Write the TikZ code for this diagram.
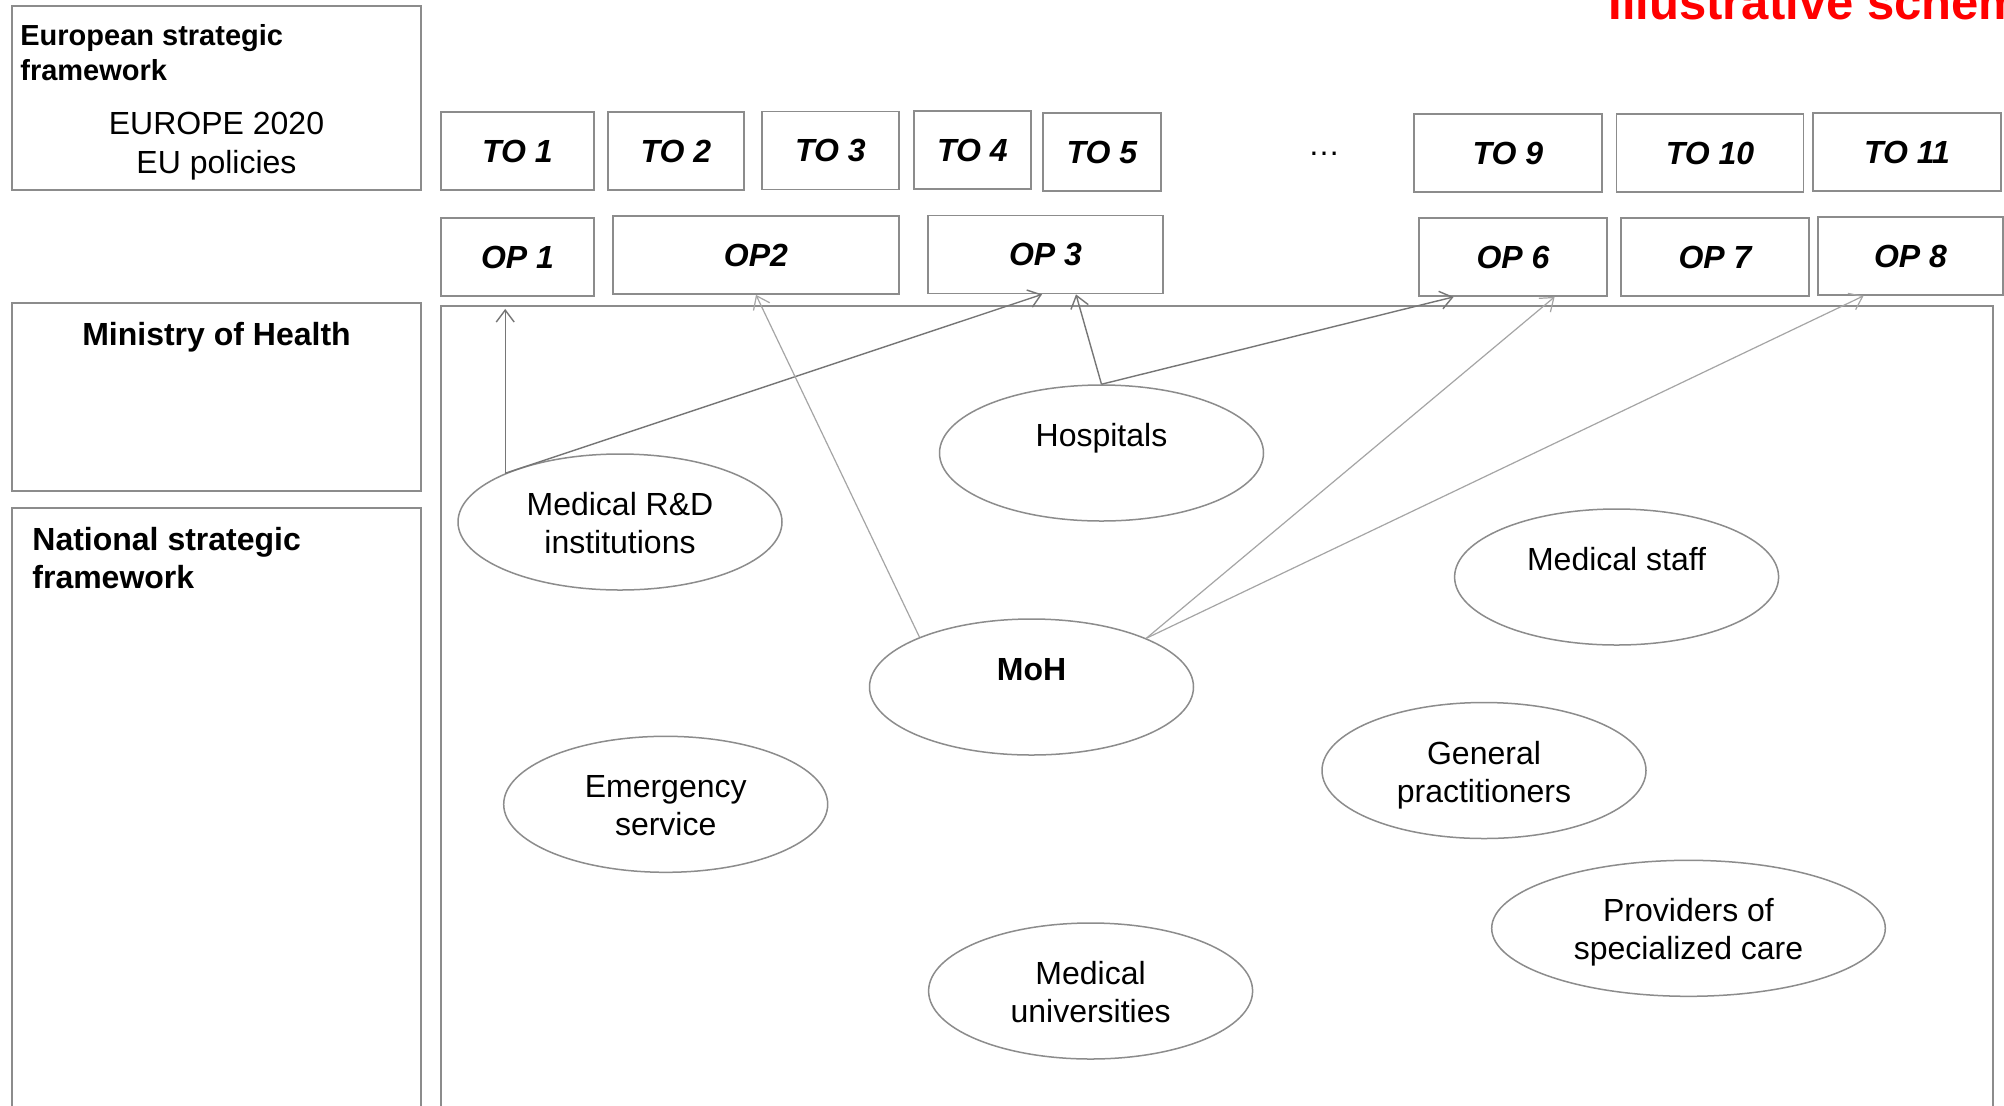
\documentclass[tikz,border=0pt]{standalone}
\usepackage{fontspec}
\setmainfont{Liberation Sans}
\usetikzlibrary{shapes.geometric,arrows.meta,calc}
\definecolor{boxgray}{RGB}{140,140,140}
\definecolor{arrdark}{RGB}{118,118,118}
\definecolor{arrlight}{RGB}{165,165,165}
\newcommand\tstrut{\rule{0pt}{18.3pt}}
\begin{document}
\begin{tikzpicture}[x=0.5pt,y=-0.5pt,
  frame/.style={draw=boxgray, line width=0.9pt},
  tobox/.style={draw=boxgray, line width=0.9pt, inner sep=0pt, minimum height=39pt,
    font=\fontsize{16}{19}\selectfont\bfseries\itshape},
  ellip/.style={ellipse, draw=boxgray, line width=0.75pt, inner sep=0pt,
    minimum width=162pt, minimum height=68pt, align=center,
    font=\fontsize{16}{19}\selectfont},
  arr/.style={draw=arrdark, line width=0.7pt, -{Straight Barb[length=6pt,width=9pt]}},
  arrl/.style={draw=arrlight, line width=0.6pt, -{Straight Barb[length=6pt,width=9pt]}},
  lbl/.style={inner sep=0pt}
]
\useasboundingbox (0,0) rectangle (2004,1105);
\clip (0,0) rectangle (2004,1105);
\fill[white] (0,0) rectangle (2004,1105);

% left frames and containers
\draw[frame] (12,6) rectangle (421,190);
\draw[frame] (12,303) rectangle (421,491);
\draw[frame] (12,508) rectangle (421,1130);
\draw[frame] (441,306) rectangle (1993,1130);

\node[lbl, anchor=west, align=left, font=\fontsize{14.5}{17.25}\selectfont\bfseries] (esf) at (20,56)
  {\strut European strategic\\framework\strut};
\node[lbl, align=center, font=\fontsize{16}{19.2}\selectfont] (eu) at (216.5,146.3)
  {\strut EUROPE 2020\\EU policies\strut};
\node[lbl, font=\fontsize{16}{19}\selectfont\bfseries] (mohtitle) at (216.5,338)
  {\strut Ministry of Health};
\node[lbl, anchor=west, align=left, font=\fontsize{16}{19}\selectfont\bfseries] (nsf) at (32,561.5)
  {\strut National strategic\\framework\strut};

% title
\node[lbl, anchor=base west, text=red, font=\fontsize{24.5}{29}\selectfont\bfseries] (title) at (1608,19)
  {Illustrative scheme};

% TO boxes
\node[tobox, minimum width=76.5pt] (to1) at (517.5,151) {TO 1};
\node[tobox, minimum width=68pt] (to2) at (676,151) {TO 2};
\node[tobox, minimum width=68.5pt] (to3) at (830.5,150.5) {TO 3};
\node[tobox, minimum width=58.5pt] (to4) at (972.5,150) {TO 4};
\node[tobox, minimum width=59pt] (to5) at (1102,152) {TO 5};
\node[lbl, anchor=base, font=\fontsize{16}{19}\selectfont] (dots) at (1324,155) {…};
\node[tobox, minimum width=93.75pt] (to9) at (1508,153) {TO 9};
\node[tobox, minimum width=93.5pt] (to10) at (1710,153) {TO 10};
\node[tobox, minimum width=94pt] (to11) at (1907,152) {TO 11};

% OP boxes
\node[tobox, minimum width=76.5pt] (op1) at (517.5,257) {OP 1};
\node[tobox, minimum width=143pt] (op2) at (756,255) {OP2};
\node[tobox, minimum width=117.5pt] (op3) at (1045.5,254.5) {OP 3};
\node[tobox, minimum width=94pt] (op6) at (1513,257) {OP 6};
\node[tobox, minimum width=94pt] (op7) at (1715,257) {OP 7};
\node[tobox, minimum width=92.5pt] (op8) at (1910.5,256) {OP 8};

% ellipses
\node[ellip] (rd) at (620,522) {\tstrut Medical R\&D\\institutions\strut};
\node[ellip] (hosp) at (1101.5,453) {\tstrut Hospitals\\\strut};
\node[ellip] (staff) at (1616.6,577) {\tstrut Medical staff\\\strut};
\node[ellip] (moh) at (1031.5,687) {\tstrut\textbf{MoH}\\\strut};
\node[ellip] (gp) at (1484,770.5) {\tstrut General\\practitioners\strut};
\node[ellip] (emer) at (665.7,804.3) {\tstrut Emergency\\service\strut};
\node[ellip, minimum width=196.8pt] (prov) at (1688.5,928.3) {\tstrut Providers of\\specialized care\strut};
\node[ellip] (univ) at (1090.6,991) {\tstrut Medical\\universities\strut};

% connectors
\draw[arr, shorten >=6pt] (rd.157) -- (rd.157 |- op1.south);
\draw[arr] (rd.157) -- ($(op3.south)+(-3.5,0)$);
\draw[arr] (hosp.north) -- ($(op3.south)+(30.5,0)$);
\draw[arr] (hosp.north) -- ($(op6.south)+(-59.4,0)$);
\draw[arrl] (moh.156) -- (op2.south);
\draw[arrl] (moh.23) -- ($(op6.south)+(41.6,0)$);
\draw[arrl] (moh.23) -- ($(op8.south)+(-47,0)$);
\end{tikzpicture}
\end{document}
